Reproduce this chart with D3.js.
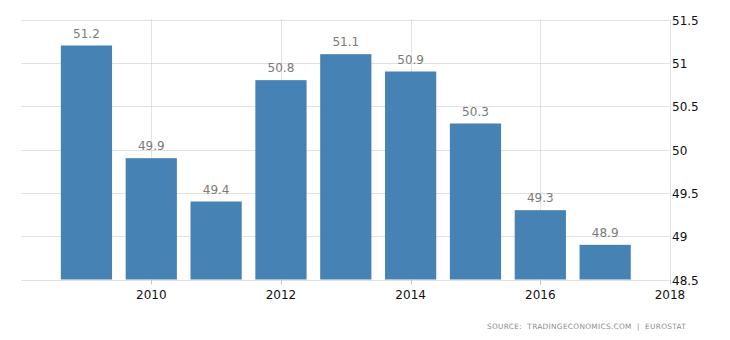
<!DOCTYPE html>
<html><head><meta charset="utf-8">
<script src="https://cdn.jsdelivr.net/npm/d3@7"></script>
<style>html,body{margin:0;padding:0;background:#fff;}svg{display:block;}</style>
</head><body>
<script>
const years = [2009, 2010, 2011, 2012, 2013, 2014, 2015, 2016, 2017];
const values = [51.2, 49.9, 49.4, 50.8, 51.1, 50.9, 50.3, 49.3, 48.9];
const xTicks = [2010, 2012, 2014, 2016, 2018];
const yTicks = [48.5, 49, 49.5, 50, 50.5, 51, 51.5];
const sourceParts = ["SOURCE:", "TRADINGECONOMICS.COM", "|", "EUROSTAT"];

const W = 730, H = 340;
const svg = d3.select("body").append("svg").attr("width", W).attr("height", H);

const x = d3.scaleLinear().domain([2008, 2018]).range([21.6, 670]);
const y = d3.scaleLinear().domain([48.5, 51.5]).range([279.5, 19.5]);
const step = x(2009) - x(2008);
const bw = step * 0.79;

// horizontal grid
svg.append("g").selectAll("line").data(yTicks).join("line")
  .attr("x1", x(2008)).attr("x2", x(2018))
  .attr("y1", d => Math.round(y(d)) + 0.5).attr("y2", d => Math.round(y(d)) + 0.5)
  .attr("stroke", "#c4c4c4").attr("stroke-width", 1).attr("stroke-dasharray", "1,1");

// vertical grid
svg.append("g").selectAll("line").data(xTicks).join("line")
  .attr("x1", d => Math.round(x(d)) + 0.5).attr("x2", d => Math.round(x(d)) + 0.5)
  .attr("y1", y(51.5)).attr("y2", y(48.5))
  .attr("stroke", "#c4c4c4").attr("stroke-width", 1).attr("stroke-dasharray", "1,1");

// bars
svg.append("g").selectAll("rect").data(years).join("rect")
  .attr("x", (d) => x(d) - bw / 2)
  .attr("width", bw)
  .attr("y", (d, i) => y(values[i]))
  .attr("height", (d, i) => y(48.5) - y(values[i]))
  .attr("fill", "#4682b4");

// value labels
svg.append("g").selectAll("text").data(years).join("text")
  .attr("x", d => x(d))
  .attr("y", (d, i) => y(values[i]) - 8)
  .attr("text-anchor", "middle")
  .attr("font-family", "'DejaVu Sans', sans-serif")
  .attr("font-size", 12)
  .attr("fill", "#7a7a7a")
  .text((d, i) => values[i]);

// x axis ticks and labels
const xa = svg.append("g");
xa.selectAll("line").data(xTicks).join("line")
  .attr("x1", d => Math.round(x(d)) + 0.5).attr("x2", d => Math.round(x(d)) + 0.5)
  .attr("y1", y(48.5)).attr("y2", y(48.5) + 5)
  .attr("stroke", "#c4c4c4");
xa.selectAll("text").data(xTicks).join("text")
  .attr("x", d => x(d)).attr("y", 299)
  .attr("text-anchor", "middle")
  .attr("font-family", "'DejaVu Sans', sans-serif")
  .attr("font-size", 12)
  .attr("fill", "#111")
  .text(d => d);

// y axis labels (right)
svg.append("g").selectAll("text").data(yTicks).join("text")
  .attr("x", x(2018) + 2).attr("y", d => y(d) + 5)
  .attr("font-family", "'DejaVu Sans', sans-serif")
  .attr("font-size", 12)
  .attr("fill", "#111")
  .text(d => d);

// source text: one line, font size fitted so the natural width matches the reference
const src = svg.append("text")
  .attr("x", 487).attr("y", 329)
  .attr("font-family", "'DejaVu Sans', sans-serif")
  .attr("font-size", 9)
  .attr("fill", "#8a8a8a")
  .attr("letter-spacing", 0.3)
  .attr("xml:space", "preserve")
  .text(sourceParts.join("\u00a0\u00a0"));
const natural = src.node().getComputedTextLength();
const target = 197;
src.attr("font-size", 9 * target / natural);
</script>
</body></html>
